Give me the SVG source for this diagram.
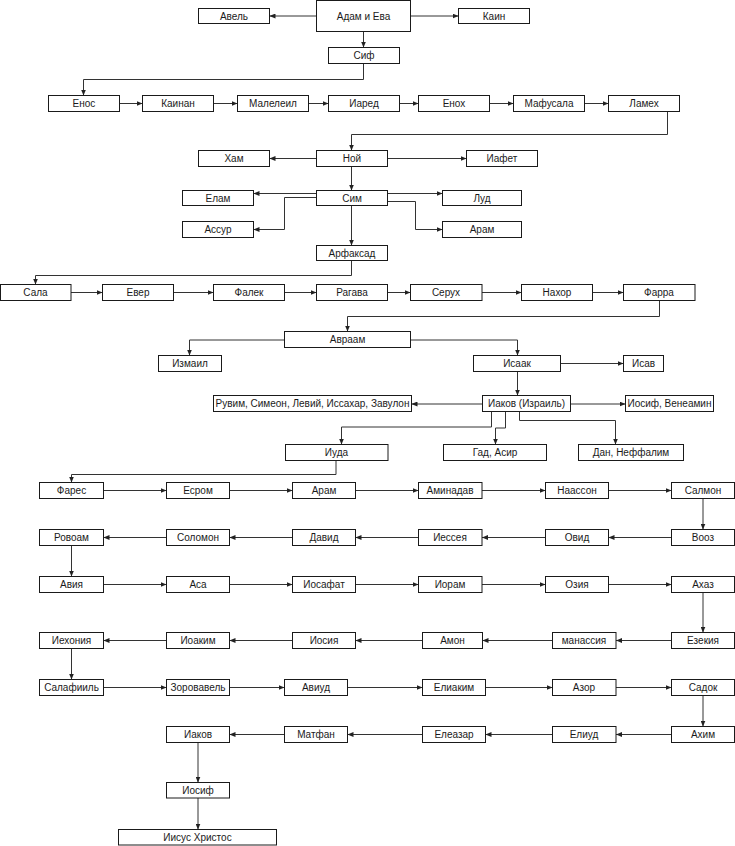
<svg xmlns="http://www.w3.org/2000/svg" width="735" height="846" viewBox="0 0 735 846">
<style>
.n rect{fill:#fff;stroke:#1a1a1a;stroke-width:1}
.n text{font-family:"Liberation Sans",Arial,sans-serif;font-size:10px;fill:#1a1a1a;text-anchor:middle;dominant-baseline:central}
.c path{fill:none;stroke:#333;stroke-width:1;marker-end:url(#ah)}
</style>
<defs>
<marker id="ah" markerUnits="userSpaceOnUse" viewBox="0 0 6 5" markerWidth="6" markerHeight="5" refX="6" refY="2.5" orient="auto">
<path d="M0,0 L6,2.5 L0,5 Z" fill="#222"/>
</marker>
</defs>
<rect width="735" height="846" fill="#fff"/>
<g class="c" id="connectors">
<path d="M316.5,16 H269.5"/>
<path d="M410.5,16 H458.5"/>
<path d="M363.5,31.5 V47.5"/>
<path d="M363.5,63.5 V79.5 H83.5 V95.5"/>
<path d="M119.5,103.5 H142.5"/>
<path d="M213.5,103.5 H237.5"/>
<path d="M308.5,103.5 H328.5"/>
<path d="M399.5,103.5 H418.5"/>
<path d="M489.5,103.5 H513.5"/>
<path d="M584.5,103.5 H608.5"/>
<path d="M667.5,111.5 V134.5 H351.5 V150.5"/>
<path d="M316.5,158.5 H269.5"/>
<path d="M387.5,158.5 H466.5"/>
<path d="M351.5,166.5 V190.5"/>
<path d="M316.5,193.5 H253.5"/>
<path d="M316.5,197.5 H284.5 V229.5 H253.5"/>
<path d="M387.5,193.5 H442.5"/>
<path d="M387.5,201.5 H415.5 V229.5 H442.5"/>
<path d="M351.5,205.5 V245.5"/>
<path d="M351.5,260.5 V275.5 H35.5 V284.5"/>
<path d="M71,292.5 H102.5"/>
<path d="M173.5,292.5 H213.5"/>
<path d="M284.5,292.5 H316.5"/>
<path d="M387.5,292.5 H410.5"/>
<path d="M482,292.5 H521.5"/>
<path d="M592.5,292.5 H623.5"/>
<path d="M659.5,300.5 V316.5 H347.5 V331.5"/>
<path d="M284.5,340 H189.5 V355.5"/>
<path d="M410.5,340 H517.5 V355.5"/>
<path d="M560.5,363.5 H623.5"/>
<path d="M517.5,371.5 V395.5"/>
<path d="M482.5,404 H411.5"/>
<path d="M570.5,404 H625.5"/>
<path d="M491.5,411.5 V427 H341.5 V444.5"/>
<path d="M505.5,411.5 V428 H495.5 V444.5"/>
<path d="M519.5,411.5 V420.5 H615.5 V444.5"/>
<path d="M336,460.5 V474.5 H71.5 V482.5"/>
<path d="M103.5,490.5 H166.5"/>
<path d="M229.5,490.5 H292.5"/>
<path d="M355.5,490.5 H418.5"/>
<path d="M482,490.5 H545.5"/>
<path d="M608.5,490.5 H671.5"/>
<path d="M703,498.5 V529.5"/>
<path d="M671.5,537.5 H608.5"/>
<path d="M545.5,537.5 H482"/>
<path d="M418.5,537.5 H355.5"/>
<path d="M292.5,537.5 H229.5"/>
<path d="M166.5,537.5 H103.5"/>
<path d="M71.5,545.5 V576.5"/>
<path d="M103.5,584.5 H166.5"/>
<path d="M229.5,584.5 H292.5"/>
<path d="M355.5,584.5 H418.5"/>
<path d="M482,584.5 H545.5"/>
<path d="M608.5,584.5 H671.5"/>
<path d="M703,592.5 V632.5"/>
<path d="M671.5,640.5 H616"/>
<path d="M552.5,640.5 H482.5"/>
<path d="M422.5,640.5 H355.5"/>
<path d="M292.5,640.5 H229.5"/>
<path d="M166.5,640.5 H103.5"/>
<path d="M71.5,648.5 V679.5"/>
<path d="M103.5,687.5 H166.5"/>
<path d="M229.5,687.5 H284.5"/>
<path d="M347.5,687.5 H422.5"/>
<path d="M485.5,687.5 H552.5"/>
<path d="M616,687.5 H671.5"/>
<path d="M703,695.5 V726.5"/>
<path d="M671.5,734.5 H616"/>
<path d="M552.5,734.5 H485.5"/>
<path d="M422.5,734.5 H347.5"/>
<path d="M284.5,734.5 H229.5"/>
<path d="M198,742.5 V782.5"/>
<path d="M198,798 V829.5"/>
</g>
<g class="n" id="avel"><rect x="198.5" y="8.5" width="71" height="15"/><text x="234" y="16">Авель</text></g>
<g class="n" id="adam"><rect x="316.5" y="0.5" width="94" height="31"/><text x="363.5" y="16">Адам и Ева</text></g>
<g class="n" id="kain"><rect x="458.5" y="8.5" width="71" height="15"/><text x="494" y="16">Каин</text></g>
<g class="n" id="sif"><rect x="328.5" y="47.5" width="71" height="16"/><text x="364" y="55.5">Сиф</text></g>
<g class="n" id="enos"><rect x="48.5" y="95.5" width="71" height="16"/><text x="84" y="103.5">Енос</text></g>
<g class="n" id="kainan"><rect x="142.5" y="95.5" width="71" height="16"/><text x="178" y="103.5">Каинан</text></g>
<g class="n" id="maleleil"><rect x="237.5" y="95.5" width="71" height="16"/><text x="273" y="103.5">Малелеил</text></g>
<g class="n" id="iared"><rect x="328.5" y="95.5" width="71" height="16"/><text x="364" y="103.5">Иаред</text></g>
<g class="n" id="enoh"><rect x="418.5" y="95.5" width="71" height="16"/><text x="454" y="103.5">Енох</text></g>
<g class="n" id="mafusala"><rect x="513.5" y="95.5" width="71" height="16"/><text x="549" y="103.5">Мафусала</text></g>
<g class="n" id="lameh"><rect x="608.5" y="95.5" width="71" height="16"/><text x="644" y="103.5">Ламех</text></g>
<g class="n" id="ham"><rect x="198.5" y="150.5" width="71" height="16"/><text x="234" y="158.5">Хам</text></g>
<g class="n" id="noy"><rect x="316.5" y="150.5" width="71" height="16"/><text x="352" y="158.5">Ной</text></g>
<g class="n" id="iafet"><rect x="466.5" y="150.5" width="71" height="16"/><text x="502" y="158.5">Иафет</text></g>
<g class="n" id="sim"><rect x="316.5" y="190.5" width="71" height="15"/><text x="352" y="198">Сим</text></g>
<g class="n" id="elam"><rect x="182.5" y="190.5" width="71" height="15"/><text x="218" y="198">Елам</text></g>
<g class="n" id="assur"><rect x="182.5" y="221.5" width="71" height="16"/><text x="218" y="229.5">Ассур</text></g>
<g class="n" id="lud"><rect x="442.5" y="190.5" width="79" height="15"/><text x="482" y="198">Луд</text></g>
<g class="n" id="aram1"><rect x="442.5" y="221.5" width="79" height="16"/><text x="482" y="229.5">Арам</text></g>
<g class="n" id="arfaksad"><rect x="316.5" y="245.5" width="71" height="15"/><text x="352" y="253">Арфаксад</text></g>
<g class="n" id="sala"><rect x="0.5" y="284.5" width="70.5" height="16"/><text x="35.5" y="292.5">Сала</text></g>
<g class="n" id="ever"><rect x="102.5" y="284.5" width="71" height="16"/><text x="138" y="292.5">Евер</text></g>
<g class="n" id="falek"><rect x="213.5" y="284.5" width="71" height="16"/><text x="249" y="292.5">Фалек</text></g>
<g class="n" id="ragava"><rect x="316.5" y="284.5" width="71" height="16"/><text x="352" y="292.5">Рагава</text></g>
<g class="n" id="seruh"><rect x="410.5" y="284.5" width="71.5" height="16"/><text x="446" y="292.5">Серух</text></g>
<g class="n" id="nahor"><rect x="521.5" y="284.5" width="71" height="16"/><text x="557" y="292.5">Нахор</text></g>
<g class="n" id="farra"><rect x="623.5" y="284.5" width="71.5" height="16"/><text x="659" y="292.5">Фарра</text></g>
<g class="n" id="avraam"><rect x="284.5" y="331.5" width="126" height="16"/><text x="347.5" y="339.5">Авраам</text></g>
<g class="n" id="izmail"><rect x="158.5" y="355.5" width="63" height="16"/><text x="190" y="363.5">Измаил</text></g>
<g class="n" id="isaak"><rect x="473.5" y="355.5" width="87" height="16"/><text x="517" y="363.5">Исаак</text></g>
<g class="n" id="isav"><rect x="623.5" y="355.5" width="40" height="16"/><text x="643.5" y="363.5">Исав</text></g>
<g class="n" id="iakov-izrail"><rect x="482.5" y="395.5" width="88" height="16"/><text x="526.5" y="403.5">Иаков (Израиль)</text></g>
<g class="n" id="ruvim"><rect x="213.5" y="395.5" width="198" height="16"/><text x="312.5" y="403.5">Рувим, Симеон, Левий, Иссахар, Завулон</text></g>
<g class="n" id="iosif-veneamin"><rect x="625.5" y="395.5" width="88" height="16"/><text x="669.5" y="403.5">Иосиф, Венеамин</text></g>
<g class="n" id="iuda"><rect x="285.5" y="444.5" width="102.5" height="16"/><text x="336.5" y="452.5">Иуда</text></g>
<g class="n" id="gad"><rect x="443.5" y="444.5" width="103" height="16"/><text x="495" y="452.5">Гад, Асир</text></g>
<g class="n" id="dan"><rect x="578.5" y="444.5" width="105" height="16"/><text x="631" y="452.5">Дан, Неффалим</text></g>
<g class="n" id="fares"><rect x="39.5" y="482.5" width="64" height="16"/><text x="71.5" y="490.5">Фарес</text></g>
<g class="n" id="esrom"><rect x="166.5" y="482.5" width="63" height="16"/><text x="198" y="490.5">Есром</text></g>
<g class="n" id="aram2"><rect x="292.5" y="482.5" width="63" height="16"/><text x="324" y="490.5">Арам</text></g>
<g class="n" id="aminadav"><rect x="418.5" y="482.5" width="63.5" height="16"/><text x="450" y="490.5">Аминадав</text></g>
<g class="n" id="naasson"><rect x="545.5" y="482.5" width="63" height="16"/><text x="577" y="490.5">Наассон</text></g>
<g class="n" id="salmon"><rect x="671.5" y="482.5" width="63" height="16"/><text x="703" y="490.5">Салмон</text></g>
<g class="n" id="rovoam"><rect x="39.5" y="529.5" width="64" height="16"/><text x="71.5" y="537.5">Ровоам</text></g>
<g class="n" id="solomon"><rect x="166.5" y="529.5" width="63" height="16"/><text x="198" y="537.5">Соломон</text></g>
<g class="n" id="david"><rect x="292.5" y="529.5" width="63" height="16"/><text x="324" y="537.5">Давид</text></g>
<g class="n" id="iesseya"><rect x="418.5" y="529.5" width="63.5" height="16"/><text x="450" y="537.5">Иессея</text></g>
<g class="n" id="ovid"><rect x="545.5" y="529.5" width="63" height="16"/><text x="577" y="537.5">Овид</text></g>
<g class="n" id="vooz"><rect x="671.5" y="529.5" width="63" height="16"/><text x="703" y="537.5">Вооз</text></g>
<g class="n" id="aviya"><rect x="39.5" y="576.5" width="64" height="16"/><text x="71.5" y="584.5">Авия</text></g>
<g class="n" id="asa"><rect x="166.5" y="576.5" width="63" height="16"/><text x="198" y="584.5">Аса</text></g>
<g class="n" id="iosafat"><rect x="292.5" y="576.5" width="63" height="16"/><text x="324" y="584.5">Иосафат</text></g>
<g class="n" id="ioram"><rect x="418.5" y="576.5" width="63.5" height="16"/><text x="450" y="584.5">Иорам</text></g>
<g class="n" id="oziya"><rect x="545.5" y="576.5" width="63" height="16"/><text x="577" y="584.5">Озия</text></g>
<g class="n" id="ahaz"><rect x="671.5" y="576.5" width="63" height="16"/><text x="703" y="584.5">Ахаз</text></g>
<g class="n" id="iehoniya"><rect x="39.5" y="632.5" width="64" height="16"/><text x="71.5" y="640.5">Иехония</text></g>
<g class="n" id="ioakim"><rect x="166.5" y="632.5" width="63" height="16"/><text x="198" y="640.5">Иоаким</text></g>
<g class="n" id="iosiya"><rect x="292.5" y="632.5" width="63" height="16"/><text x="324" y="640.5">Иосия</text></g>
<g class="n" id="amon"><rect x="422.5" y="632.5" width="60" height="16"/><text x="452.5" y="640.5">Амон</text></g>
<g class="n" id="manassiya"><rect x="552.5" y="632.5" width="63.5" height="16"/><text x="584" y="640.5">манассия</text></g>
<g class="n" id="ezekiya"><rect x="671.5" y="632.5" width="63" height="16"/><text x="703" y="640.5">Езекия</text></g>
<g class="n" id="salafiil"><rect x="39.5" y="679.5" width="64" height="16"/><text x="71.5" y="687.5">Салафииль</text></g>
<g class="n" id="zorovavel"><rect x="166.5" y="679.5" width="63" height="16"/><text x="198" y="687.5">Зоровавель</text></g>
<g class="n" id="aviud"><rect x="284.5" y="679.5" width="63" height="16"/><text x="316" y="687.5">Авиуд</text></g>
<g class="n" id="eliakim"><rect x="422.5" y="679.5" width="63" height="16"/><text x="454" y="687.5">Елиаким</text></g>
<g class="n" id="azor"><rect x="552.5" y="679.5" width="63.5" height="16"/><text x="584" y="687.5">Азор</text></g>
<g class="n" id="sadok"><rect x="671.5" y="679.5" width="63" height="16"/><text x="703" y="687.5">Садок</text></g>
<g class="n" id="iakov"><rect x="166.5" y="726.5" width="63" height="16"/><text x="198" y="734.5">Иаков</text></g>
<g class="n" id="matfan"><rect x="284.5" y="726.5" width="63" height="16"/><text x="316" y="734.5">Матфан</text></g>
<g class="n" id="eleazar"><rect x="422.5" y="726.5" width="63" height="16"/><text x="454" y="734.5">Елеазар</text></g>
<g class="n" id="eliud"><rect x="552.5" y="726.5" width="63.5" height="16"/><text x="584" y="734.5">Елиуд</text></g>
<g class="n" id="ahim"><rect x="671.5" y="726.5" width="63" height="16"/><text x="703" y="734.5">Ахим</text></g>
<g class="n" id="iosif"><rect x="166.5" y="782.5" width="63" height="15.5"/><text x="198" y="790.5">Иосиф</text></g>
<g class="n" id="iisus"><rect x="118.5" y="829.5" width="158" height="15.5"/><text x="197.5" y="837.5">Иисус Христос</text></g>
</svg>
